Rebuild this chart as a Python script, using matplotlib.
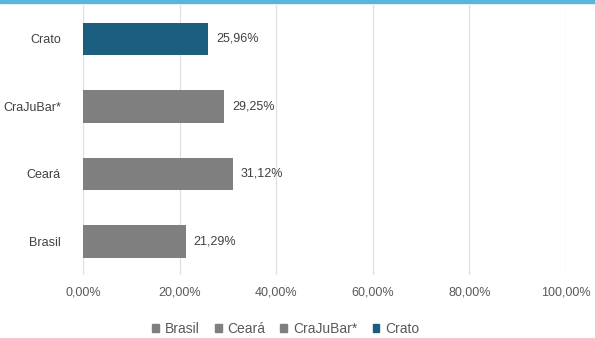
import matplotlib.pyplot as plt
from matplotlib.patches import Patch, Rectangle

# data
categories = ["Brasil", "Ceará", "CraJuBar*", "Crato"]
values = [21.29, 31.12, 29.25, 25.96]
colors = ["#7f7f7f", "#7f7f7f", "#7f7f7f", "#1b5e80"]
xticks = [0, 20, 40, 60, 80, 100]

plt.rcParams["font.family"] = ["Liberation Sans", "DejaVu Sans"]
text_color = "#595959"

fig = plt.figure(figsize=(5.95, 3.38), dpi=100)
ax = fig.add_axes([0.1395, 0.186, 0.8115, 0.799])

ypos = range(len(categories))
ax.barh(ypos, values, height=0.48, color=colors, zorder=3)
for y, v in zip(ypos, values):
    ax.text(v + 1.6, y, f"{v:.2f}%".replace(".", ","), va="center", ha="left",
            fontsize=9, color="#404040")

ax.set_xlim(0, 100)
ax.set_ylim(-0.5, 3.5)
ax.set_xticks(xticks)
ax.set_xticklabels([f"{t:.2f}%".replace(".", ",") for t in xticks], fontsize=9, color=text_color)
ax.set_yticks(list(ypos))
ax.set_yticklabels(categories, fontsize=9, color="#404040")
ax.tick_params(length=0, pad=8)
ax.tick_params(axis="y", pad=16)
ax.grid(axis="x", color="#e0e0e0", linewidth=0.9, zorder=0)
for s in ax.spines.values():
    s.set_visible(False)

handles = [Patch(color=c, label=l) for c, l in zip(colors, categories)]
fig.legend(handles=handles, loc="center", bbox_to_anchor=(0.48, 0.028), ncol=4,
           frameon=False, fontsize=10, handlelength=0.5, handleheight=0.5,
           handletextpad=0.4, columnspacing=1.1, labelcolor=text_color)

# top accent band
fig.patches.append(Rectangle((0, 0.99), 1, 0.01, transform=fig.transFigure,
                             color="#5ab4dc", zorder=5))

fig.savefig("out.png", dpi=100)
